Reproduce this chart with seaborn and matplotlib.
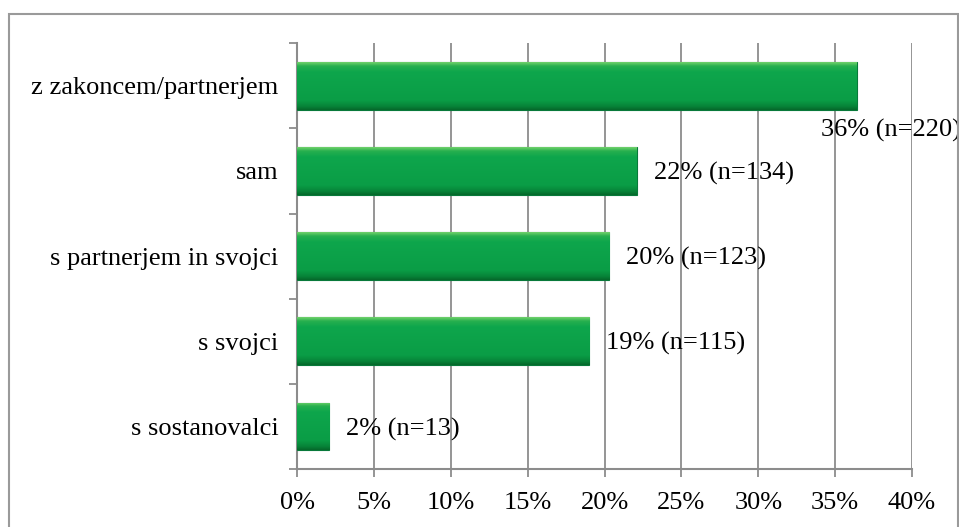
import numpy as np
import pandas as pd
import matplotlib
matplotlib.use('Agg')
import matplotlib.pyplot as plt
import seaborn as sns
from matplotlib.colors import LinearSegmentedColormap
from matplotlib.patches import Rectangle

kategorije = ['z zakoncem/partnerjem', 'sam', 's partnerjem in svojci', 's svojci', 's sostanovalci']
delezi = [36.4, 22.1, 20.3, 19.0, 2.1]
oznake = ['36% (n=220)', '22% (n=134)', '20% (n=123)', '19% (n=115)', '2% (n=13)']
x_ticks = [0, 5, 10, 15, 20, 25, 30, 35, 40]

df = pd.DataFrame({'kategorija': kategorije, 'delez': delezi})

sns.set_style('white')
plt.rcParams['font.family'] = ['Liberation Serif', 'DejaVu Serif']
plt.rcParams['text.color'] = 'black'
plt.rcParams['xtick.color'] = 'black'
plt.rcParams['ytick.color'] = 'black'

fs = 19

fig = plt.figure(figsize=(9.59, 5.27), dpi=100)
ax = fig.add_axes([0.3097, 0.110, 0.6413, 0.808])

sns.barplot(data=df, y='kategorija', x='delez', orient='h', color='#0ca24b',
            width=0.56, edgecolor='#08793a', linewidth=0.8, ax=ax, zorder=3)

# vertical gradient inside each bar
cmap = LinearSegmentedColormap.from_list('g', [(0, '#6fd06a'), (0.08, '#27b04f'), (0.2, '#0ea64c'),
                                              (0.8, '#0a9d46'), (0.93, '#078338'), (1, '#05692b')])
grad = np.linspace(0, 1, 100).reshape(-1, 1)
for p in ax.patches:
    x0, y0 = p.get_x(), p.get_y()
    w, h = p.get_width(), p.get_height()
    im = ax.imshow(grad, cmap=cmap, aspect='auto', extent=(x0, x0 + w, y0 + h, y0),
                   zorder=3.5, origin='upper')
    im.set_clip_path(p)

ax.set_xlim(0, 40)
ax.set_ylim(4.5, -0.5)
ax.set_xticks(x_ticks)
ax.set_xticklabels([f'{t}%' for t in x_ticks])
ax.set_xlabel('')
ax.set_ylabel('')

ax.grid(axis='x', color='#8c8c8c', linewidth=1.3, zorder=1)
ax.set_axisbelow(True)
for s in ['top', 'right']:
    ax.spines[s].set_visible(False)
for s in ['left', 'bottom']:
    ax.spines[s].set_color('#8c8c8c')
    ax.spines[s].set_linewidth(1.5)

ax.tick_params(axis='y', which='major', left=False, length=0, pad=13.5, labelsize=fs)
ax.set_yticks(np.arange(-0.5, 5, 1), minor=True)
ax.tick_params(axis='y', which='minor', left=True, length=6, color='#8c8c8c', width=1.3)
ax.tick_params(axis='x', which='major', bottom=True, length=5.5, color='#8c8c8c', width=1.3,
               labelcolor='black', pad=11, labelsize=fs)
ax.tick_params(axis='y', labelcolor='black')

for i, (v, t) in enumerate(zip(delezi, oznake)):
    if i == 0:
        ax.text(v - 2.3, i + 0.53, t, va='center', ha='left', fontsize=fs, clip_on=False)
    else:
        ax.text(v + 1.1, i + 0.03, t, va='center', ha='left', fontsize=fs)

fig.patches.append(Rectangle((9 / 959, -0.01), 949 / 959, 1 - 14 / 527 + 0.01,
                             transform=fig.transFigure, fill=False,
                             edgecolor='#9a9a9a', linewidth=1.5))

fig.savefig('out.png', dpi=100)
